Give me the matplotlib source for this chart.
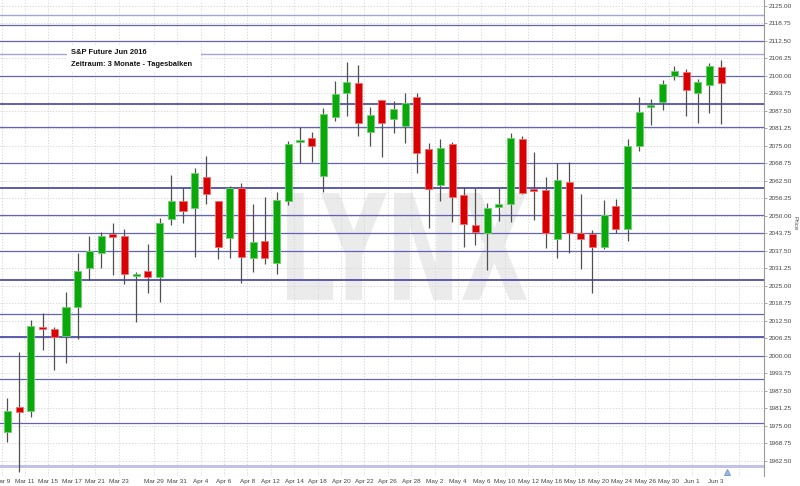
import matplotlib
matplotlib.use("Agg")
import matplotlib.pyplot as plt
import numpy as np
from matplotlib.patches import Rectangle, PathPatch
from matplotlib.textpath import TextPath
from matplotlib.font_manager import FontProperties
from matplotlib.transforms import Affine2D

plt.rcParams['font.family'] = ['Liberation Sans', 'DejaVu Sans']

# ---------------- data ----------------
dates = ["Mar 9", "Mar 10", "Mar 11", "Mar 14", "Mar 15", "Mar 16", "Mar 17", "Mar 18",
         "Mar 21", "Mar 22", "Mar 23", "Mar 24", "Mar 28", "Mar 29", "Mar 30", "Mar 31",
         "Apr 1", "Apr 4", "Apr 5", "Apr 6", "Apr 7", "Apr 8", "Apr 11", "Apr 12",
         "Apr 13", "Apr 14", "Apr 15", "Apr 18", "Apr 19", "Apr 20", "Apr 21", "Apr 22",
         "Apr 25", "Apr 26", "Apr 27", "Apr 28", "Apr 29", "May 2", "May 3", "May 4",
         "May 5", "May 6", "May 9", "May 10", "May 11", "May 12", "May 13", "May 16",
         "May 17", "May 18", "May 19", "May 20", "May 23", "May 24", "May 25", "May 26",
         "May 27", "May 30", "May 31", "Jun 1", "Jun 2", "Jun 3"]

opens = [1972.75, 1981.75, 1980.25, 2009.75, 2009.5, 2007.25, 2017.5, 2031.5,
         2036.75, 2043.5, 2042.75, 2028.5, 2030.25, 2028.25, 2049.0, 2055.25,
         2052.75, 2064.0, 2055.25, 2042.0, 2060.0, 2035.0, 2041.0, 2033.25,
         2055.25, 2076.5, 2077.75, 2064.25, 2085.25, 2094.0, 2097.5, 2080.0,
         2091.5, 2084.75, 2082.25, 2092.5, 2074.0, 2061.0, 2075.75, 2057.5,
         2046.75, 2044.0, 2053.25, 2054.25, 2077.5, 2059.25, 2059.25, 2041.75,
         2062.25, 2044.0, 2043.5, 2039.0, 2053.5, 2045.25, 2075.0, 2089.0,
         2090.75, 2100.0, 2101.5, 2094.0, 2096.75, 2103.25]

highs = [1985.0, 2001.5, 2012.75, 2015.25, 2010.25, 2022.75, 2036.75, 2042.75,
         2044.25, 2047.5, 2045.25, 2030.0, 2040.0, 2049.25, 2064.75, 2060.0,
         2067.25, 2071.5, 2055.5, 2060.75, 2061.75, 2054.25, 2056.75, 2058.5,
         2076.75, 2081.75, 2080.0, 2088.5, 2098.25, 2105.0, 2103.75, 2088.75,
         2091.5, 2091.0, 2094.0, 2094.0, 2076.0, 2077.5, 2076.5, 2060.25,
         2060.0, 2054.75, 2060.0, 2079.75, 2078.5, 2072.75, 2064.0, 2069.0,
         2069.25, 2057.75, 2045.0, 2055.75, 2056.0, 2077.5, 2092.5, 2091.75,
         2098.5, 2103.5, 2102.5, 2099.0, 2104.75, 2105.75]

lows = [1969.25, 1958.5, 1978.25, 2002.25, 1995.0, 1997.5, 2006.0, 2027.25,
        2031.5, 2029.0, 2025.75, 2012.25, 2022.5, 2019.25, 2046.75, 2047.5,
        2035.25, 2054.25, 2034.75, 2035.0, 2026.0, 2030.0, 2032.75, 2029.25,
        2054.0, 2069.0, 2069.25, 2058.5, 2083.75, 2085.75, 2078.5, 2075.0,
        2071.0, 2079.75, 2076.0, 2065.25, 2045.75, 2055.25, 2047.75, 2039.0,
        2039.75, 2030.75, 2048.25, 2047.75, 2057.75, 2048.5, 2038.5, 2035.0,
        2036.75, 2031.0, 2022.5, 2038.25, 2043.75, 2041.0, 2073.25, 2082.5,
        2087.75, 2098.5, 2085.75, 2083.25, 2086.75, 2082.75]

closes = [1980.25, 1980.0, 2010.75, 2009.5, 2006.75, 2017.5, 2030.25, 2037.5,
          2042.75, 2042.5, 2029.25, 2028.75, 2028.25, 2047.5, 2055.25, 2051.75,
          2065.25, 2057.75, 2039.0, 2060.0, 2035.25, 2040.75, 2035.0, 2055.75,
          2075.75, 2077.0, 2075.0, 2086.5, 2093.5, 2097.75, 2083.25, 2086.0,
          2083.25, 2088.25, 2090.25, 2072.5, 2059.75, 2074.25, 2056.75, 2047.25,
          2044.25, 2052.75, 2054.25, 2077.75, 2058.25, 2059.0, 2044.0, 2062.75,
          2044.0, 2041.75, 2039.0, 2050.25, 2045.25, 2075.0, 2087.25, 2089.75,
          2097.25, 2101.75, 2095.0, 2097.75, 2103.5, 2097.5]

tick_labels = ["Mar 9", "Mar 11", "Mar 15", "Mar 17", "Mar 21", "Mar 23", "Mar 29",
               "Mar 31", "Apr 4", "Apr 6", "Apr 8", "Apr 12", "Apr 14", "Apr 18",
               "Apr 20", "Apr 22", "Apr 26", "Apr 28", "May 2", "May 4", "May 6",
               "May 10", "May 12", "May 16", "May 18", "May 20", "May 24", "May 26",
               "May 30", "Jun 1", "Jun 3"]

price_ticks = [1962.50, 1968.75, 1975.00, 1981.25, 1987.50, 1993.75, 2000.00, 2006.25,
               2012.50, 2018.75, 2025.00, 2031.25, 2037.50, 2043.75, 2050.00, 2056.25,
               2062.50, 2068.75, 2075.00, 2081.25, 2087.50, 2093.75, 2100.00, 2106.25,
               2112.50, 2118.75, 2125.00]

sr_levels = [2121.75, 2118.25, 2112.5, 2108.0, 2100.0, 2090.0, 2081.75, 2068.75,
             2060.0, 2050.5, 2043.75, 2037.5, 2027.0, 2015.0, 2006.75, 2000.0,
             1991.75, 1976.0, 1960.75]
sr_kind = ["light", "mid", "mid", "light", "mid", "dark", "mid", "mid",
           "thick", "mid", "mid", "mid", "thick", "mid", "thick", "mid",
           "mid", "mid", "pale"]

# ---------------- figure ----------------
W, H = 800, 486
fig = plt.figure(figsize=(W / 100, H / 100), dpi=100)
fig.patch.set_facecolor("white")
ax_bottom_px = 476
ax_right_px = 764
ax = fig.add_axes([0, (H - ax_bottom_px) / H, ax_right_px / W, ax_bottom_px / H])
ax.set_facecolor("white")

x = np.arange(len(dates))
ax.set_xlim(-0.641, 64.66)
ax.set_ylim(1957.14, 2127.14)

# grid
grid_kw = dict(color="#d2d2d2", lw=0.6, ls=(0, (1.5, 2)), zorder=0.6)
for p in price_ticks:
    ax.axhline(p, **grid_kw)
tick_pos = [dates.index(t) - 0.5 for t in tick_labels]
for tp_ in tick_pos + [len(dates) + 0.5]:
    ax.axvline(tp_, **grid_kw)

# watermark
fp = FontProperties(family="DejaVu Sans", weight="bold")
path = TextPath((0, 0), "LYNX", size=100, prop=fp)
bb = path.get_extents()
x0, x1 = 287 / W, 527 / W
y0, y1 = 1 - 300 / H, 1 - 193 / H
tr = (Affine2D().translate(-bb.x0, -bb.y0)
      .scale((x1 - x0) / bb.width, (y1 - y0) / bb.height)
      .translate(x0, y0) + fig.transFigure)
ax.add_patch(PathPatch(path, facecolor="#ebebeb", edgecolor="none",
                       transform=tr, zorder=0.5))

# support / resistance lines
styles = {"light": dict(color="#a4a4d8", lw=1.0),
          "mid": dict(color="#6262b6", lw=0.9),
          "dark": dict(color="#34349a", lw=1.1),
          "thick": dict(color="#5a5ab0", lw=1.4),
          "pale": dict(color="#c2c2e8", lw=2.2)}
for lvl, k in zip(sr_levels, sr_kind):
    ax.axhline(lvl, zorder=1, **styles[k])

# candles
o = np.array(opens); c = np.array(closes)
hi = np.array(highs); lo = np.array(lows)
up = c >= o
ax.vlines(x, lo, hi, color="#505050", lw=0.9, zorder=2)
bottoms = np.minimum(o, c)
heights = np.maximum(np.abs(c - o), 0.7)
face = np.where(up, "#0aa80a", "#d80000")
edge = np.where(up, "#6fd06f", "#f07070")
ax.bar(x, heights, bottom=bottoms, width=0.6, color=face, edgecolor=edge,
       linewidth=0.6, zorder=3)

# little marker near bottom right
ax.plot([61.5], [1958.6], marker="^", ms=5, color="#9bb8e6", mec="#6f8fcf",
        mew=0.6, zorder=4, clip_on=False)

# axes styling
for s in ["top", "left", "bottom"]:
    ax.spines[s].set_visible(False)
ax.spines["right"].set_color("#9a9a9a")
ax.spines["right"].set_linewidth(0.8)

ax.yaxis.tick_right()
ax.set_yticks(price_ticks)
ax.set_yticklabels(["%.2f" % p for p in price_ticks])
ax.tick_params(axis="y", length=2, width=0.6, color="#9a9a9a", pad=1.5,
               labelsize=4.6, labelcolor="#444444")
ax.set_xticks(tick_pos)
ax.set_xticklabels(tick_labels)
ax.tick_params(axis="x", length=0, pad=2.5, labelsize=4.6, labelcolor="#444444")

fig.text(795 / W, 1 - 223 / H, "Price", rotation=270, ha="center", va="center",
         fontsize=4.6, color="#555555")

# title box
fig.add_artist(Rectangle((67 / W, 1 - 72 / H), (201 - 67) / W, (72 - 46) / H,
                         transform=fig.transFigure, facecolor="white",
                         edgecolor="none", zorder=5))
fig.text(71 / W, 1 - 52.5 / H, "S&P Future Jun 2016", ha="left", va="center",
         fontsize=5.4, fontweight="bold", color="#111111", zorder=6)
fig.text(71 / W, 1 - 64.5 / H, "Zeitraum: 3 Monate - Tagesbalken", ha="left",
         va="center", fontsize=5.4, fontweight="bold", color="#111111", zorder=6)

fig.savefig("out.png", dpi=100, facecolor="white")
